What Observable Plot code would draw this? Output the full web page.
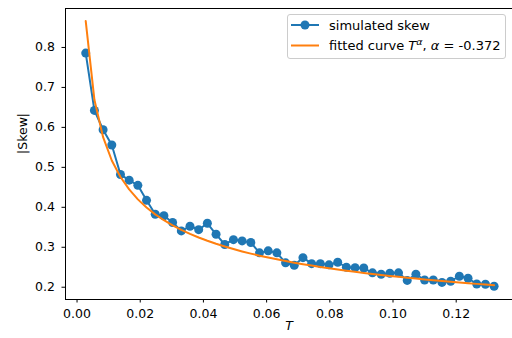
<!DOCTYPE html>
<html>
<head>
<meta charset="utf-8">
<script src="https://cdn.jsdelivr.net/npm/d3@7"></script>
<script src="https://cdn.jsdelivr.net/npm/@observablehq/plot@0.6"></script>
<style>
  html, body { margin: 0; padding: 0; background: #fff; }
  #chart { width: 512px; height: 338px; position: relative; }
  svg { font-family: "DejaVu Sans", sans-serif; }
</style>
</head>
<body>
<div id="chart"></div>
<script>
// Time values T
const T = [0.00275, 0.0055, 0.00825, 0.011, 0.01375, 0.0165, 0.01925, 0.022, 0.02475, 0.0275,
  0.03025, 0.033, 0.03575, 0.0385, 0.04125, 0.044, 0.04675, 0.0495, 0.05225, 0.055,
  0.05775, 0.0605, 0.06325, 0.066, 0.06875, 0.0715, 0.07425, 0.077, 0.07975, 0.0825,
  0.08525, 0.088, 0.09075, 0.0935, 0.09625, 0.099, 0.10175, 0.1045, 0.10725, 0.11,
  0.11275, 0.1155, 0.11825, 0.121, 0.12375, 0.1265, 0.12925, 0.132];
// simulated |skew|
const skew = [0.786, 0.6425, 0.594, 0.556, 0.482, 0.468, 0.455, 0.4175, 0.3825, 0.379,
  0.362, 0.341, 0.3525, 0.344, 0.36, 0.3325, 0.307, 0.319, 0.316, 0.312,
  0.286, 0.291, 0.286, 0.261, 0.255, 0.274, 0.259, 0.259, 0.256, 0.2625,
  0.25, 0.249, 0.248, 0.236, 0.2325, 0.235, 0.236, 0.217, 0.2325, 0.218,
  0.218, 0.212, 0.215, 0.2275, 0.2225, 0.208, 0.2075, 0.2025];
// fitted curve T^alpha values, alpha = -0.372
const fitted = [0.866, 0.669, 0.5755, 0.5171, 0.4759, 0.4447, 0.4199, 0.3996, 0.3824, 0.3677,
  0.3549, 0.3436, 0.3335, 0.3245, 0.3163, 0.3087, 0.3019, 0.2955, 0.2896, 0.2841,
  0.2790, 0.2743, 0.2698, 0.2655, 0.2615, 0.2577, 0.2542, 0.2507, 0.2475, 0.2444,
  0.2414, 0.2386, 0.2359, 0.2332, 0.2307, 0.2284, 0.2260, 0.2238, 0.2216, 0.2195,
  0.2175, 0.2156, 0.2137, 0.2119, 0.2102, 0.2084, 0.2068, 0.2052];
const xTicks = [0, 0.02, 0.04, 0.06, 0.08, 0.10, 0.12];
const yTicks = [0.2, 0.3, 0.4, 0.5, 0.6, 0.7, 0.8];
const seriesNames = ["simulated skew", "fitted curve"];
const alphaLabel = "-0.372";

const blue = "#1f77b4", orange = "#ff7f0e";
const sim = T.map((t, i) => ({T: t, v: skew[i]}));
const fit = T.map((t, i) => ({T: t, v: fitted[i]}));
const xDom = [-0.00365, 0.13782];
const yDom = [0.1693, 0.8975];

const plot = Plot.plot({
  width: 512,
  height: 338,
  marginLeft: 65,
  marginRight: 0,
  marginTop: 8,
  marginBottom: 39,
  style: {fontFamily: "DejaVu Sans, sans-serif", background: "#fff", overflow: "visible"},
  x: {domain: xDom},
  y: {domain: yDom},
  marks: [
    Plot.axisX({ticks: xTicks, tickFormat: d3.format(".2f"), tickSize: 3.5, tickPadding: 6, fontSize: 12.5, label: null, stroke: "#000", color: "#000"}),
    Plot.axisY({ticks: yTicks, tickFormat: d3.format(".1f"), tickSize: 3.5, tickPadding: 7, fontSize: 12.5, label: null, stroke: "#000", color: "#000"}),
    Plot.ruleX([xDom[0]], {stroke: "#000", strokeWidth: 1}),
    Plot.ruleY([yDom[0], yDom[1]], {stroke: "#000", strokeWidth: 1}),
    Plot.line(sim, {x: "T", y: "v", stroke: blue, strokeWidth: 2}),
    Plot.dot(sim, {x: "T", y: "v", r: 4.5, fill: blue, stroke: blue, strokeWidth: 0}),
    Plot.line(fit, {x: "T", y: "v", stroke: orange, strokeWidth: 2}),
    Plot.text(["T"], {frameAnchor: "bottom", dy: 30, fontStyle: "italic", fontSize: 12.5, fill: "#000"}),
    Plot.text(["|Skew|"], {frameAnchor: "left", dx: -43, rotate: -90, fontSize: 12.5, fill: "#000"})
  ]
});

document.getElementById("chart").appendChild(plot);

// legend
const svg = d3.select(plot);
const g = svg.append("g").attr("font-family", "DejaVu Sans, sans-serif").attr("font-size", 13)
  .attr("text-anchor", "start");
g.append("rect").attr("x", 287.5).attr("y", 14.5).attr("width", 218).attr("height", 44)
  .attr("rx", 2.5).attr("fill", "#fff").attr("fill-opacity", 0.8).attr("stroke", "#cccccc");
g.append("line").attr("x1", 291).attr("x2", 319).attr("y1", 25).attr("y2", 25).attr("stroke", blue).attr("stroke-width", 2);
g.append("circle").attr("cx", 305).attr("cy", 25).attr("r", 4.5).attr("fill", blue);
g.append("text").attr("x", 329).attr("y", 29.5).attr("fill", "#000").text(seriesNames[0]);
g.append("line").attr("x1", 291).attr("x2", 319).attr("y1", 45.5).attr("y2", 45.5).attr("stroke", orange).attr("stroke-width", 2);
const t2 = g.append("text").attr("x", 329).attr("y", 50).attr("fill", "#000");
t2.append("tspan").text(seriesNames[1] + " ");
t2.append("tspan").attr("font-style", "italic").text("T");
t2.append("tspan").attr("font-style", "italic").attr("font-size", 9.5).attr("dy", -5.5).text("α");
t2.append("tspan").attr("dy", 5.5).text(", ");
t2.append("tspan").attr("font-style", "italic").text("α");
t2.append("tspan").text(" = " + alphaLabel);
</script>
</body>
</html>
